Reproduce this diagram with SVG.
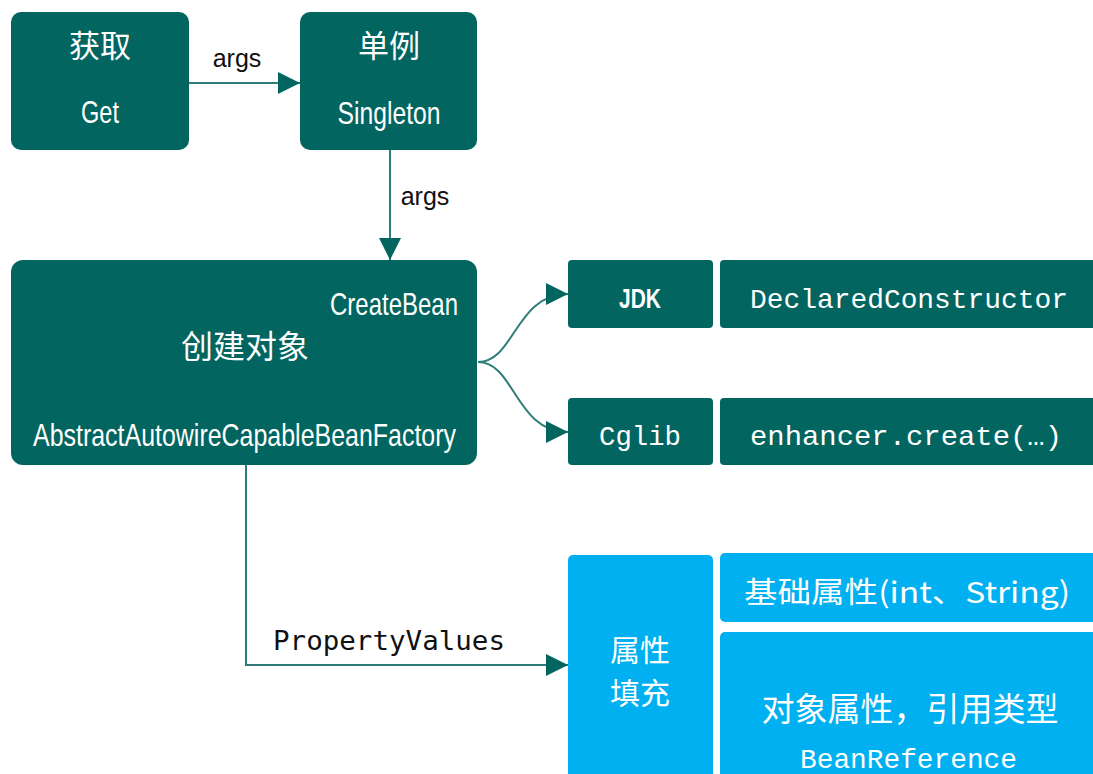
<svg xmlns="http://www.w3.org/2000/svg" width="1093" height="774" viewBox="0 0 1093 774">
<defs>
<style>
.dk{fill:#02655F}
.lb{fill:#00B0F0}
.t{fill:#fff;font-family:"Liberation Sans","Noto Sans CJK SC",sans-serif}
.cn{fill:#fff;font-family:"Noto Sans CJK SC",sans-serif}
.mono{fill:#fff;font-family:"Liberation Mono","DejaVu Sans Mono",monospace}
.lbl{fill:#111;font-family:"Liberation Sans",sans-serif;font-size:25px}
.ln{fill:none;stroke:#2E7D78;stroke-width:2}
</style>
<marker id="ahb" viewBox="0 0 10 10" refX="10" refY="5" markerWidth="22" markerHeight="22" markerUnits="userSpaceOnUse" orient="auto">
<path d="M0,0 L10,5 L0,10 z" fill="#02655F"/>
</marker>
</defs>
<rect width="1093" height="774" fill="#fff"/>
<g id="connectors">
<path class="ln" d="M189,83 L300,83" marker-end="url(#ahb)"/>
<path class="ln" d="M390,150 L390,260" marker-end="url(#ahb)"/>
<path class="ln" d="M478,362 C515,362 515,294 568,294" marker-end="url(#ahb)"/>
<path class="ln" d="M478,362 C515,362 515,432 568,432" marker-end="url(#ahb)"/>
<path class="ln" d="M246,465 L246,665 L568,665" marker-end="url(#ahb)"/>
<text class="lbl" x="237" y="67" text-anchor="middle">args</text>
<text class="lbl" x="425" y="205" text-anchor="middle">args</text>
<text x="273" y="650" font-family="'DejaVu Sans Mono',monospace" font-size="26" fill="#111" textLength="232" lengthAdjust="spacingAndGlyphs">PropertyValues</text>
</g>
<g id="get">
<rect class="dk" x="11" y="12" width="178" height="138" rx="10"/>
<text class="cn" x="100" y="57" font-size="31" text-anchor="middle">获取</text>
<text class="t" x="100" y="123" font-size="32" text-anchor="middle" textLength="38" lengthAdjust="spacingAndGlyphs">Get</text>
</g>
<g id="singleton">
<rect class="dk" x="300" y="12" width="177" height="138" rx="10"/>
<text class="cn" x="389" y="57" font-size="31" text-anchor="middle">单例</text>
<text class="t" x="389" y="124" font-size="32" text-anchor="middle" textLength="103" lengthAdjust="spacingAndGlyphs">Singleton</text>
</g>
<g id="createbean">
<rect class="dk" x="11" y="260" width="466" height="205" rx="12"/>
<text class="t" x="458" y="315" font-size="32" text-anchor="end" textLength="128" lengthAdjust="spacingAndGlyphs">CreateBean</text>
<text class="cn" x="245" y="358" font-size="32" text-anchor="middle">创建对象</text>
<text class="t" x="33" y="446" font-size="32" textLength="423" lengthAdjust="spacingAndGlyphs">AbstractAutowireCapableBeanFactory</text>
</g>
<g id="jdk">
<rect class="dk" x="568" y="260" width="145" height="68" rx="4"/>
<text class="t" x="640" y="308" font-size="28" font-weight="bold" text-anchor="middle" textLength="42" lengthAdjust="spacingAndGlyphs">JDK</text>
</g>
<g id="declared">
<rect class="dk" x="720" y="260" width="380" height="68" rx="4"/>
<text class="mono" x="750" y="308" font-size="28" textLength="318" lengthAdjust="spacingAndGlyphs">DeclaredConstructor</text>
</g>
<g id="cglib">
<rect class="dk" x="568" y="398" width="145" height="67" rx="4"/>
<text class="mono" x="640" y="445" font-size="28" text-anchor="middle" textLength="82" lengthAdjust="spacingAndGlyphs">Cglib</text>
</g>
<g id="enhancer">
<rect class="dk" x="720" y="398" width="380" height="67" rx="4"/>
<text class="mono" x="750" y="445" font-size="28" textLength="312" lengthAdjust="spacingAndGlyphs">enhancer.create(…)</text>
</g>
<g id="fill">
<rect class="lb" x="568" y="555" width="145" height="230" rx="5"/>
<text class="cn" x="640" y="661" font-size="30" text-anchor="middle">属性</text>
<text class="cn" x="640" y="704" font-size="30" text-anchor="middle">填充</text>
</g>
<g id="basic">
<rect class="lb" x="720" y="553" width="380" height="69" rx="5"/>
<text class="cn" x="744" y="603" font-size="29" textLength="326" lengthAdjust="spacingAndGlyphs">基础属性(int、String)</text>
</g>
<g id="objref">
<rect class="lb" x="720" y="632" width="380" height="150" rx="5"/>
<text class="cn" x="910" y="721" font-size="33" text-anchor="middle">对象属性，引用类型</text>
<text class="mono" x="800" y="768" font-size="28" textLength="217" lengthAdjust="spacingAndGlyphs">BeanReference</text>
</g>
</svg>
